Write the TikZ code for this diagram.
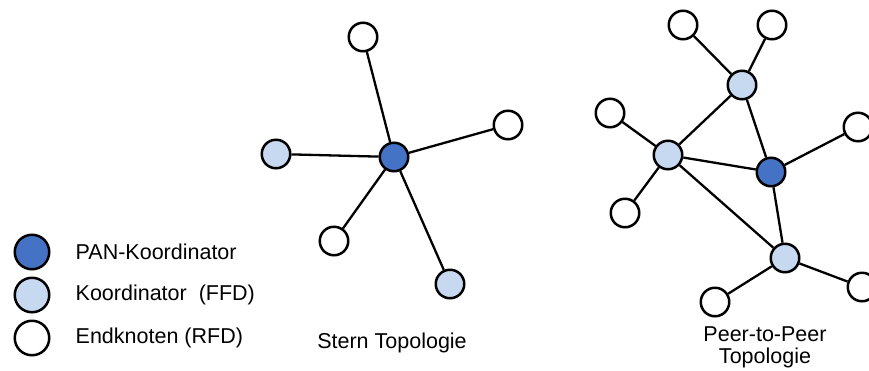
\documentclass[tikz,border=0pt]{standalone}
\usepackage{fontspec}
\setmainfont{Liberation Sans}
\usetikzlibrary{positioning}
\definecolor{pandark}{HTML}{4472C4}
\definecolor{ffdlight}{HTML}{C6D9F0}

\begin{document}
\begin{tikzpicture}[x=1pt, y=-1pt,
    node distance = 23pt,
       dev/.style = {circle, draw, line width=2.5pt, minimum size=28.5pt,
                     inner sep=0pt, fill=#1},
     dev/.default = white,
       leg/.style = {dev=#1, minimum size=34.5pt},
     leg/.default = white,
       lbl/.style = {font=\fontsize{21.5}{22}\selectfont, inner sep=2pt,
                     align=center},
      link/.style = {line width=2.3pt},
                    ]
    \clip (0,0) rectangle (869,370);
    %% legend
    \node[leg=pandark]  (Lpan) at (32,252) {};
    \node[leg=ffdlight] (Lffd) at (32,295) {};
    \node[leg]          (Lrfd) at (32,338) {};
    \node[lbl, right=of Lpan] (tpan) {PAN-Koordinator};
    \node[lbl, right=of Lffd] (tffd) {Koordinator\ \ (FFD)};
    \node[lbl, right=of Lrfd] (trfd) {Endknoten (RFD)};
    %
    %% star
    \node[dev=pandark]  (hub) at (394,157) {};
    \node[dev]          (s1)  at (363,37)  {};
    \node[dev]          (s2)  at (508,125) {};
    \node[dev=ffdlight] (s3)  at (276,154) {};
    \node[dev]          (s4)  at (334,241) {};
    \node[dev=ffdlight] (s5)  at (450,284) {};
    \foreach \n in {1,...,5}
        \draw[link] (hub) -- (s\n);
    \node[lbl] (sternlbl) at (392,343) {Stern Topologie};
    %
    %% peer-to-peer
    \node[dev=pandark]  (pan) at (771,172) {};
    \node[dev=ffdlight] (k1)  at (742,85)  {};
    \node[dev=ffdlight] (k2)  at (668,155) {};
    \node[dev=ffdlight] (k3)  at (785,258) {};
    \node[dev] (e1) at (683,25)  {};
    \node[dev] (e2) at (772,25)  {};
    \node[dev] (e3) at (610,113) {};
    \node[dev] (e4) at (625,213) {};
    \node[dev] (e5) at (858,127) {};
    \node[dev] (e6) at (715,302) {};
    \node[dev] (e7) at (862,287) {};
    \draw[link] (k1) edge (e1)
                (k1) edge (e2)
                (k1) edge (k2)
                (k1) edge (pan)
                (k2) edge (e3)
                (k2) edge (e4)
                (k2) edge (pan)
                (k2) edge (k3)
                (pan) edge (e5)
                (pan) edge (k3)
                (k3) edge (e6)
                (k3)  to  (e7)
                ;
    \node[lbl] (p2plbl) at (765,347) {Peer-to-Peer\\Topologie};
\end{tikzpicture}
\end{document}
